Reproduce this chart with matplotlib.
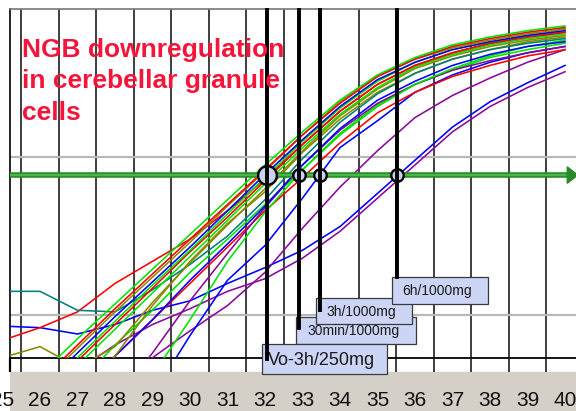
import matplotlib
matplotlib.use("Agg")
import matplotlib.pyplot as plt
import matplotlib.transforms as mtransforms
from matplotlib.patches import Rectangle
from matplotlib.lines import Line2D

# ---------------- data (log10 of delta Rn) ----------------
cycles = [25, 26, 27, 28, 29, 30, 31, 32, 33, 34, 35, 36, 37, 38, 39, 40]
tick_labels = ["25", "26", "27", "28", "29", "30", "31", "32",
               "33", "34", "35", "36", "37", "38", "39", "40"]

green_a = [-2.62, -2.38, -2.15, -1.93, -1.71, -1.49, -1.27, -1.05, -0.84, -0.64, -0.48, -0.37, -0.29, -0.24, -0.20, -0.17]
red_a = [-2.66, -2.42, -2.19, -1.96, -1.74, -1.52, -1.30, -1.08, -0.86, -0.66, -0.49, -0.38, -0.30, -0.25, -0.21, -0.18]
olive_a = [-2.68, -2.44, -2.21, -1.98, -1.76, -1.54, -1.31, -1.09, -0.86, -0.65, -0.49, -0.38, -0.31, -0.26, -0.22, -0.19]
blue_a = [-2.70, -2.47, -2.24, -2.01, -1.79, -1.57, -1.34, -1.11, -0.89, -0.68, -0.51, -0.40, -0.32, -0.27, -0.23, -0.20]
green_b = [-2.74, -2.50, -2.27, -2.04, -1.81, -1.59, -1.36, -1.13, -0.90, -0.69, -0.52, -0.40, -0.32, -0.27, -0.23, -0.19]
red_b = [-2.76, -2.52, -2.29, -2.06, -1.83, -1.60, -1.38, -1.15, -0.92, -0.71, -0.54, -0.42, -0.34, -0.28, -0.24, -0.21]
green_c = [-2.80, -2.56, -2.32, -2.09, -1.86, -1.63, -1.40, -1.17, -0.94, -0.73, -0.56, -0.43, -0.35, -0.29, -0.25, -0.22]
olive_b = [-2.27, -2.20, -2.33, -2.20, -1.92, -1.67, -1.43, -1.20, -0.96, -0.74, -0.57, -0.44, -0.36, -0.30, -0.26, -0.23]
teal_a = [-1.85, -1.85, -1.97, -1.98, -1.84, -1.68, -1.50, -1.27, -1.01, -0.78, -0.60, -0.47, -0.38, -0.32, -0.28, -0.25]
red_early = [-2.16, -2.08, -1.98, -1.80, -1.66, -1.52, -1.34, -1.14, -0.92, -0.71, -0.54, -0.42, -0.34, -0.28, -0.24, -0.21]
olive_c = [-3.00, -2.80, -2.55, -2.26, -1.94, -1.66, -1.42, -1.22, -0.97, -0.76, -0.59, -0.47, -0.38, -0.32, -0.27, -0.24]
blue_b = [-3.04, -2.80, -2.53, -2.26, -2.03, -1.78, -1.55, -1.31, -1.05, -0.82, -0.64, -0.52, -0.42, -0.35, -0.30, -0.27]
green_late = [-3.30, -3.04, -2.85, -2.66, -2.38, -2.03, -1.66, -1.35, -1.08, -0.86, -0.68, -0.54, -0.44, -0.36, -0.30, -0.26]
purple_30 = [-3.30, -3.11, -2.83, -2.54, -2.24, -1.91, -1.61, -1.32, -1.05, -0.83, -0.66, -0.54, -0.45, -0.39, -0.34, -0.30]
green_30 = [-2.92, -2.70, -2.44, -2.19, -1.97, -1.73, -1.52, -1.30, -1.08, -0.85, -0.67, -0.54, -0.45, -0.37, -0.32, -0.28]
red_30 = [-2.98, -2.76, -2.51, -2.26, -2.03, -1.80, -1.57, -1.34, -1.13, -0.91, -0.72, -0.59, -0.49, -0.42, -0.36, -0.32]
blue_3h = [-3.30, -3.11, -2.92, -2.73, -2.51, -2.13, -1.78, -1.56, -1.26, -0.94, -0.77, -0.59, -0.48, -0.40, -0.34, -0.30]
purple_3h = [-3.04, -2.89, -2.70, -2.48, -2.27, -2.10, -1.94, -1.73, -1.45, -1.19, -0.96, -0.75, -0.61, -0.50, -0.40, -0.32]
blue_6h = [-2.07, -2.08, -2.12, -2.06, -1.97, -1.91, -1.80, -1.70, -1.59, -1.44, -1.23, -1.02, -0.81, -0.65, -0.53, -0.42]
purple_6h = [-2.66, -2.51, -2.35, -2.19, -2.06, -1.96, -1.85, -1.77, -1.64, -1.47, -1.26, -1.05, -0.84, -0.68, -0.56, -0.46]

threshold = -1.114
ct_values = [32.05, 32.91, 33.47, 35.52]
ct_labels = ["Vo-3h/250mg", "30min/1000mg", "3h/1000mg", "6h/1000mg"]
title_lines = ["NGB downregulation", "in cerebellar granule", "cells"]

RED, GREEN, BLUE = "#ff0000", "#00e400", "#0000ff"
PURPLE, OLIVE, TEAL = "#8a0a9a", "#8a8a00", "#008080"
series = [
    (purple_6h, PURPLE), (blue_6h, BLUE), (purple_3h, PURPLE), (blue_3h, BLUE),
    (red_30, RED), (green_30, GREEN), (purple_30, PURPLE), (green_late, GREEN),
    (blue_b, BLUE), (olive_c, OLIVE), (red_early, RED), (teal_a, TEAL),
    (olive_b, OLIVE), (green_c, GREEN), (red_b, RED), (green_b, GREEN),
    (blue_a, BLUE), (olive_a, OLIVE), (red_a, RED), (green_a, GREEN),
]

# ---------------- layout helpers (pixels -> figure fraction) ----------------
W, H = 576, 411
def fx(px):
    return px / W
def fy(py):
    return 1 - py / H

fig = plt.figure(figsize=(W / 100, H / 100), dpi=100)
fig.patch.set_facecolor("white")

XMIN, XMAX = 25.2, 40.293
ax = fig.add_axes([fx(10), fy(358), fx(576) - fx(10), fy(9.5) - fy(358)])
ax.set_xlim(XMIN, XMAX)
ax.set_ylim(-2.272, -0.066)
ax.set_xticks([])
ax.set_yticks([])
ax.spines["right"].set_visible(False)
ax.spines["top"].set_color("#777777")
ax.spines["top"].set_linewidth(1.2)
ax.spines["left"].set_color("#000000")
ax.spines["left"].set_linewidth(1.2)
ax.spines["bottom"].set_color("#000000")
ax.spines["bottom"].set_linewidth(1.3)

grid_x = [c + 0.5 for c in cycles[:-1]]
for g in grid_x:
    ax.axvline(g, color="#1e1e1e", lw=1.2, zorder=1)
for hy in (-1.0, -2.0):
    ax.axhline(hy, color="#b8b8b8", lw=1.6, zorder=1)

for vals, col in series:
    ax.plot(cycles, vals, color=col, lw=1.15, zorder=3)

# threshold line with arrow head
ax.plot([XMIN, 40.08], [threshold, threshold], color="#2a8a2a", lw=4.0,
        solid_capstyle="butt", zorder=4)
ax.plot([XMIN, 40.08], [threshold, threshold], color="#45b845", lw=1.6,
        solid_capstyle="butt", zorder=4)
ax.fill([40.06, 40.06, 40.34], [threshold - 0.052, threshold + 0.052, threshold],
        color="#2a8a2a", zorder=4, clip_on=False)

# Ct circles
for i, ct in enumerate(ct_values):
    ax.plot([ct], [threshold], "o", ms=13.5 if i == 0 else 9.0, mfc="#c9d2f4",
            mec="black", mew=1.7, zorder=6)

# bottom strip + grey axis band
ax2 = fig.add_axes([fx(10), 0, fx(576) - fx(10), fy(358)])
ax2.set_xlim(XMIN, XMAX)
ax2.set_ylim(411, 358)
ax2.axis("off")
ax2.axhspan(372, 411, color="#d4d0c8", zorder=0)
ax2.vlines(grid_x, 358, 372, color="#1e1e1e", lw=1.2)
ax2.vlines([XMIN], 358, 372, color="black", lw=1.6, clip_on=False)
for c, lab in zip(cycles, tick_labels):
    ax2.text(c, 400, lab, ha="center", va="center", fontsize=15,
             family="Liberation Sans", color="#111111", clip_on=False)

# label boxes (30min, 3h, 6h, V0 stacking order)
boxes = {
    1: (296, 317, 416, 344, 10),
    2: (316, 298, 412, 324, 10),
    3: (392, 277, 488, 304, 10),
    0: (262, 344, 387, 374, 13),
}
for z, idx in enumerate([1, 2, 3, 0]):
    x0, y0, x1, y1, fs = boxes[idx]
    fig.add_artist(Rectangle((fx(x0), fy(y1)), fx(x1) - fx(x0), fy(y0) - fy(y1),
                             transform=fig.transFigure, fc="#ccd5f6", ec="#3a3a3a",
                             lw=0.9, zorder=8 + 0.1 * z))
    fig.text(fx((x0 + x1) / 2 - 3), fy((y0 + y1) / 2 + 1), ct_labels[idx],
             ha="center", va="center", fontsize=fs, family="Liberation Sans",
             color="#1a1a1a", zorder=9)

# Ct marker lines
blend = mtransforms.blended_transform_factory(ax.transData, fig.transFigure)
line_bottoms = [359, 328, 310, 277]
for ct, yb in zip(ct_values, line_bottoms):
    fig.add_artist(Line2D([ct, ct], [fy(10), fy(yb)], transform=blend,
                          color="black", lw=2.8, zorder=10))

# title
for ypx, t in zip([57, 88, 120], title_lines):
    fig.text(fx(22), fy(ypx), t, fontsize=19, fontweight="bold",
             family="Liberation Sans", color="#f5143a", va="baseline", zorder=11)

fig.savefig("out.png", dpi=100)
